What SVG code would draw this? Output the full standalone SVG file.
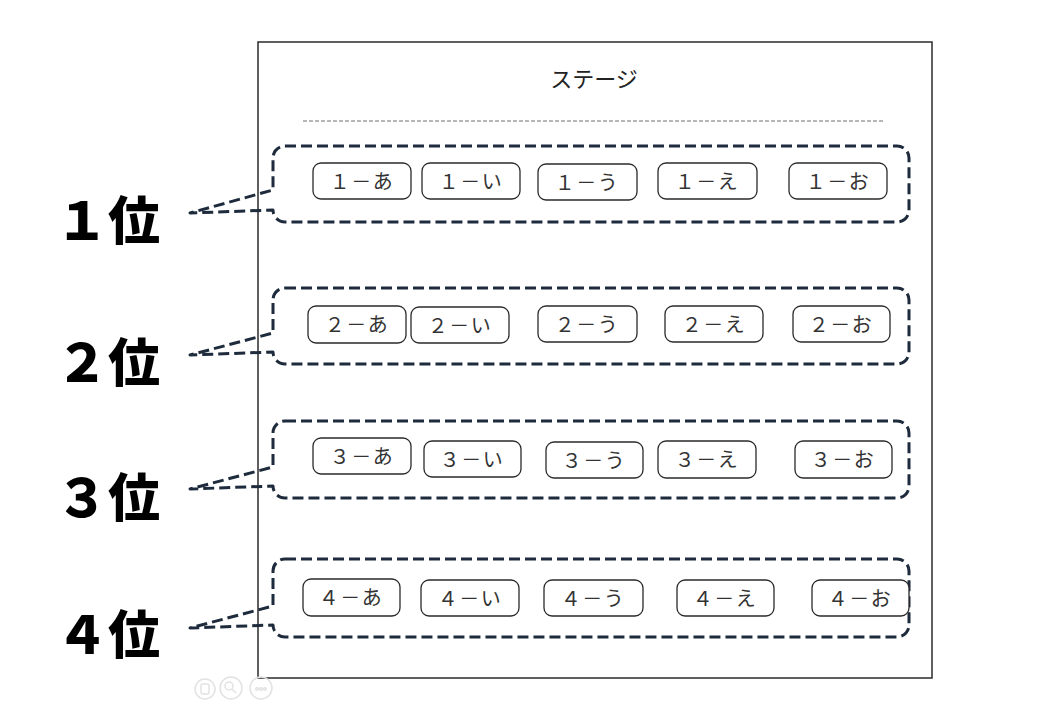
<svg xmlns="http://www.w3.org/2000/svg" width="1040" height="720" viewBox="0 0 1040 720">
<style>
.frame{fill:none;stroke:#2b2b2b;stroke-width:1.5}
.sep{fill:none;stroke:#6e6e6e;stroke-width:1;stroke-dasharray:4 2}
.callout{fill:none;stroke:#1e2b3c;stroke-width:3;stroke-dasharray:11 5;stroke-linejoin:round}
.pill rect{fill:#fff;stroke:#2a2a2a;stroke-width:1.3}
.pill text{font-family:"Noto Sans CJK JP","Noto Sans",sans-serif;font-size:20px;font-weight:400;fill:#333;text-anchor:middle;letter-spacing:1.5px}
.rank{font-family:"Noto Sans CJK JP","Noto Sans",sans-serif;font-size:52px;font-weight:900;fill:#000}
.title{font-family:"Noto Sans CJK JP","Noto Sans",sans-serif;font-size:22px;fill:#222;text-anchor:middle}
.icon{fill:none;stroke:#e2e2e2;stroke-width:1.5}
</style>
<rect width="1040" height="720" fill="#fff"/>
<g id="stage">
<rect class="frame" x="258" y="42" width="674" height="636"/>
<text class="title" x="594" y="87">ステージ</text>
<line class="sep" x1="303" y1="121" x2="884" y2="121"/>
</g>
<g id="connectors">
<path class="callout" d="M285,146 H897 A12,12 0 0 1 909,158 V210 A12,12 0 0 1 897,222 H285 A12,12 0 0 1 273,210 L190,213 L273,190 V158 A12,12 0 0 1 285,146 Z"/>
<path class="callout" d="M285,288 H897 A12,12 0 0 1 909,300 V352 A12,12 0 0 1 897,364 H285 A12,12 0 0 1 273,352 L190,355 L273,333 V300 A12,12 0 0 1 285,288 Z"/>
<path class="callout" d="M285,421 H897 A12,12 0 0 1 909,433 V486 A12,12 0 0 1 897,498 H285 A12,12 0 0 1 273,486 L190,489 L273,467 V433 A12,12 0 0 1 285,421 Z"/>
<path class="callout" d="M285,559 H897 A12,12 0 0 1 909,571 V625 A12,12 0 0 1 897,637 H285 A12,12 0 0 1 273,625 L190,628 L273,606 V571 A12,12 0 0 1 285,559 Z"/>
</g>
<g id="rank1"><text class="rank" x="56" y="240">１位</text></g>
<g id="rank2"><text class="rank" x="56" y="382">２位</text></g>
<g id="rank3"><text class="rank" x="56" y="517">３位</text></g>
<g id="rank4"><text class="rank" x="56" y="654">４位</text></g>
<g id="n1a" class="pill"><rect x="313" y="163" width="98" height="36" rx="8"/><text x="362" y="189">１－あ</text></g>
<g id="n1i" class="pill"><rect x="422" y="163" width="98" height="36" rx="8"/><text x="471" y="189">１－い</text></g>
<g id="n1u" class="pill"><rect x="538" y="164" width="99" height="36" rx="8"/><text x="587" y="190">１－う</text></g>
<g id="n1e" class="pill"><rect x="658" y="163" width="99" height="36" rx="8"/><text x="707" y="189">１－え</text></g>
<g id="n1o" class="pill"><rect x="789" y="163" width="98" height="36" rx="8"/><text x="838" y="189">１－お</text></g>
<g id="n2a" class="pill"><rect x="308" y="306" width="98" height="37" rx="8"/><text x="357" y="332">２－あ</text></g>
<g id="n2i" class="pill"><rect x="411" y="307" width="98" height="36" rx="8"/><text x="460" y="333">２－い</text></g>
<g id="n2u" class="pill"><rect x="538" y="306" width="99" height="36" rx="8"/><text x="587" y="332">２－う</text></g>
<g id="n2e" class="pill"><rect x="665" y="306" width="98" height="36" rx="8"/><text x="714" y="332">２－え</text></g>
<g id="n2o" class="pill"><rect x="793" y="306" width="97" height="36" rx="8"/><text x="841" y="332">２－お</text></g>
<g id="n3a" class="pill"><rect x="313" y="438" width="98" height="36" rx="8"/><text x="362" y="464">３－あ</text></g>
<g id="n3i" class="pill"><rect x="424" y="441" width="97" height="36" rx="8"/><text x="472" y="467">３－い</text></g>
<g id="n3u" class="pill"><rect x="546" y="442" width="97" height="36" rx="8"/><text x="594" y="468">３－う</text></g>
<g id="n3e" class="pill"><rect x="658" y="441" width="98" height="37" rx="8"/><text x="707" y="467">３－え</text></g>
<g id="n3o" class="pill"><rect x="795" y="441" width="97" height="37" rx="8"/><text x="843" y="467">３－お</text></g>
<g id="n4a" class="pill"><rect x="303" y="579" width="97" height="37" rx="8"/><text x="351" y="605">４－あ</text></g>
<g id="n4i" class="pill"><rect x="421" y="580" width="98" height="36" rx="8"/><text x="470" y="606">４－い</text></g>
<g id="n4u" class="pill"><rect x="544" y="580" width="99" height="36" rx="8"/><text x="593" y="606">４－う</text></g>
<g id="n4e" class="pill"><rect x="677" y="580" width="97" height="36" rx="8"/><text x="725" y="606">４－え</text></g>
<g id="n4o" class="pill"><rect x="812" y="580" width="97" height="36" rx="8"/><text x="860" y="606">４－お</text></g>
<g id="icons">
<circle class="icon" cx="205" cy="689" r="10"/>
<rect class="icon" x="201" y="684" width="8" height="10" rx="1.5"/>
<circle class="icon" cx="231" cy="688" r="11"/>
<circle class="icon" cx="229" cy="686" r="4"/>
<line class="icon" x1="232" y1="689" x2="236" y2="693"/>
<circle class="icon" cx="261" cy="688" r="11"/>
<circle class="icon" cx="257" cy="689" r="1.3"/>
<circle class="icon" cx="261" cy="689" r="1.3"/>
<circle class="icon" cx="265" cy="689" r="1.3"/>
</g>
</svg>
